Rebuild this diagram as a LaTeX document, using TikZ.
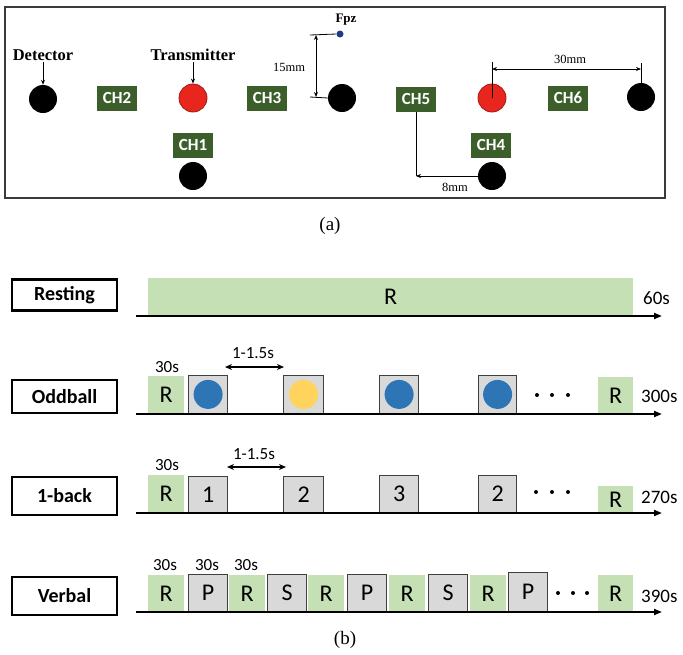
\documentclass[tikz,border=0pt]{standalone}
\usepackage{fontspec}
\setmainfont{Liberation Serif}
\newfontfamily\calfont{Carlito}
\usetikzlibrary{arrows.meta}
\definecolor{chgreen}{HTML}{3B5E2B}
\definecolor{txred}{HTML}{E8261E}
\definecolor{rgreen}{HTML}{C5E0B4}
\definecolor{gfill}{HTML}{D9D9D9}
\definecolor{gdraw}{HTML}{3F3F3F}
\definecolor{bblue}{HTML}{2E75B6}
\definecolor{byellow}{HTML}{FFD35C}
\definecolor{fpzblue}{HTML}{1F3C88}
\definecolor{framec}{HTML}{3A3A3A}
\begin{document}
\begin{tikzpicture}[x=1pt,y=-1pt,
  frame/.style={draw=framec,line width=2.6pt},
  lab/.style={font=\bfseries\fontsize{16.5}{18}\selectfont,inner sep=1pt},
  dimlab/.style={font=\fontsize{12.5}{14}\selectfont,inner sep=1pt},
  ch/.style={fill=chgreen,text=white,font=\calfont\bfseries\fontsize{17}{18}\selectfont,minimum width=40pt,minimum height=25pt,inner sep=0pt},
  det/.style={circle,fill=black,minimum size=28pt,inner sep=0pt},
  txc/.style={circle,fill=txred,draw=txred!70!black,line width=0.8pt,minimum size=28pt,inner sep=0pt},
  fpzdot/.style={circle,fill=fpzblue,minimum size=7pt,inner sep=0pt},
  sarr/.style={line width=0.8pt,-{Stealth[length=5pt,width=4pt]}},
  darr/.style={line width=0.8pt,{Stealth[length=5pt,width=4pt]}-{Stealth[length=5pt,width=4pt]}},
  thinln/.style={line width=0.8pt},
  tbox/.style={draw=black,line width=2.2pt,minimum width=105pt,font=\calfont\bfseries\fontsize{20}{22}\selectfont,inner sep=0pt},
  gr/.style={fill=rgreen,anchor=south west,inner sep=0pt,font=\calfont\fontsize{24}{26}\selectfont},
  gy/.style={fill=gfill,draw=gdraw,line width=1.2pt,anchor=south west,inner sep=0pt,font=\calfont\fontsize{24}{26}\selectfont},
  ball/.style={circle,minimum size=29pt,inner sep=0pt},
  sl/.style={font=\calfont\fontsize{19}{22}\selectfont,inner sep=0pt},
  ts/.style={font=\calfont\fontsize{17}{20}\selectfont,inner sep=0pt},
  tl/.style={line width=1.8pt,-{Triangle[length=8pt,width=6pt]}},
  iarr/.style={line width=1.4pt,{Stealth[length=7pt,width=6pt]}-{Stealth[length=7pt,width=6pt]}},
  dotc/.style={circle,fill=black,minimum size=4pt,inner sep=0pt},
  captext/.style={font=\fontsize{19}{22}\selectfont}
]
\useasboundingbox (0,0) rectangle (683,654);
% ---------------- panel (a)
\draw[frame] (5,7) rectangle (665,198);
\node[det] (d1) at (43,99) {};
\node[lab] (detl) at (43,55) {Detector};
\draw[sarr] (detl.south) -- (d1.north);
\node[ch] (ch2) at (117,98) {CH2};
\node[txc] (t1) at (193,98) {};
\node[lab] (txl) at (193,55) {Transmitter};
\draw[sarr] (txl.south) -- (t1.north);
\node[ch] (ch3) at (267,98) {CH3};
\node[ch] (ch1) at (193,145) {CH1};
\node[det] (d2) at (193,176) {};
\node[det] (d3) at (342,98) {};
\node[fpzdot] (fpz) at (340,34) {};
\node[lab,font=\bfseries\fontsize{13}{15}\selectfont] (fpzl) at (346,20) {Fpz};
\coordinate (m15t) at (310,35);
\coordinate (m15b) at (310,97);
\coordinate (m15a) at (316,35);
\coordinate (m15c) at (316,97);
\draw[thinln] (m15t) -- (fpz.west);
\draw[thinln] (m15b) -- (d3.west);
\draw[darr] (m15a) -- (m15c);
\node[dimlab] (l15) at (289,67) {15mm};
\node[ch] (ch5) at (416,99) {CH5};
\node[txc] (t2) at (492,98) {};
\node[ch] (ch6) at (568,98) {CH6};
\node[det] (d4) at (641,97) {};
\node[ch] (ch4) at (491,145) {CH4};
\node[det] (d5) at (492,176) {};
\coordinate (m30a) at (492,62);
\coordinate (m30b) at (641,63);
\coordinate (m30l) at (492,69);
\coordinate (m30r) at (641,69);
\draw[thinln] (t2.center) -- (m30a);
\draw[thinln] (m30b) -- (d4.north);
\draw[darr] (m30l) -- (m30r);
\node[dimlab] (l30) at (570,59) {30mm};
\coordinate (m8) at (ch5.south |- d5.center);
\draw[thinln] (ch5.south) -- (m8);
\draw[sarr] (d5.west) -- (m8);
\node[dimlab] (l8) at (455,187) {8mm};
\node[captext] (capa) at (330,226) {(a)};
% ---------------- panel (b): Resting
\node[tbox,minimum height=31pt] (lres) at (64.5,295) {Resting};
\node[gr,minimum width=485pt,minimum height=37pt] (rbar) at (148,315) {R};
\coordinate (r0s) at (136,316);
\coordinate (r0e) at (662,316);
\draw[tl] (r0s) -- (r0e);
\node[sl,anchor=west] (t60) at (643,298) {60s};
% Oddball
\node[tbox,minimum height=33pt] (lodd) at (64.5,396.5) {Oddball};
\node[gr,minimum width=36pt,minimum height=38pt] (o1) at (148,414) {R};
\node[gy,minimum width=39pt,minimum height=38pt] (o2) at (188,414) {};
\node[gy,minimum width=40pt,minimum height=38pt] (o3) at (283,414) {};
\node[gy,minimum width=39pt,minimum height=38pt] (o4) at (379,414) {};
\node[gy,minimum width=38pt,minimum height=38pt] (o5) at (478,414) {};
\node[ball,fill=bblue] (o2c) at (o2.center) {};
\node[ball,fill=byellow] (o3c) at (o3.center) {};
\node[ball,fill=bblue] (o4c) at (o4.center) {};
\node[ball,fill=bblue] (o5c) at (o5.center) {};
\node[dotc] (od1) at (537,395) {};
\node[dotc] (od2) at (552,395) {};
\node[dotc] (od3) at (568,395) {};
\node[gr,minimum width=35pt,minimum height=37pt] (o6) at (598,414) {R};
\coordinate (o0s) at (136,414);
\coordinate (o0e) at (662,414);
\draw[tl] (o0s) -- (o0e);
\node[sl,anchor=west] (t300) at (641,396) {300s};
\node[ts] (o30) at (167,367) {30s};
\coordinate (oa1) at (225,367);
\coordinate (oa2) at (284,367);
\draw[iarr] (oa1) -- (oa2);
\node[ts] (oal) at (253,353) {1-1.5s};
% 1-back
\node[tbox,minimum height=38pt] (lone) at (64.5,496) {1-back};
\node[gr,minimum width=36pt,minimum height=38pt] (b1) at (148,513) {R};
\node[gy,minimum width=39pt,minimum height=36pt] (b2) at (188,513) {1};
\node[gy,minimum width=40pt,minimum height=36pt] (b3) at (283,513) {2};
\node[gy,minimum width=39pt,minimum height=37pt] (b4) at (379,513) {3};
\node[gy,minimum width=38pt,minimum height=37pt] (b5) at (478,513) {2};
\node[dotc] (bd1) at (536,492) {};
\node[dotc] (bd2) at (552,492) {};
\node[dotc] (bd3) at (568,492) {};
\node[gr,minimum width=35pt,minimum height=27pt] (b6) at (598,513) {R};
\coordinate (b0s) at (136,513);
\coordinate (b0e) at (662,513);
\draw[tl] (b0s) -- (b0e);
\node[sl,anchor=west] (t270) at (641,497) {270s};
\node[ts] (b30) at (167,465) {30s};
\coordinate (ba1) at (227,467);
\coordinate (ba2) at (286,467);
\draw[iarr] (ba1) -- (ba2);
\node[ts] (bal) at (254,454) {1-1.5s};
% Verbal
\node[tbox,minimum height=38pt] (lver) at (64.5,596) {Verbal};
\node[gr,minimum width=36pt,minimum height=37pt] (v1) at (148,612) {R};
\node[gy,minimum width=39pt,minimum height=37pt] (v2) at (188,612) {P};
\node[gr,minimum width=36pt,minimum height=37pt] (v3) at (229,612) {R};
\node[gy,minimum width=39pt,minimum height=37pt] (v4) at (267,612) {S};
\node[gr,minimum width=36pt,minimum height=37pt] (v5) at (308,612) {R};
\node[gy,minimum width=39pt,minimum height=37pt] (v6) at (347,612) {P};
\node[gr,minimum width=36pt,minimum height=37pt] (v7) at (389,612) {R};
\node[gy,minimum width=39pt,minimum height=37pt] (v8) at (428,612) {S};
\node[gr,minimum width=36pt,minimum height=37pt] (v9) at (470,612) {R};
\node[gy,minimum width=39pt,minimum height=39pt] (v10) at (508,612) {P};
\node[dotc] (vd1) at (558,593) {};
\node[dotc] (vd2) at (573,593) {};
\node[dotc] (vd3) at (587,593) {};
\node[gr,minimum width=35pt,minimum height=37pt] (v11) at (598,612) {R};
\coordinate (v0s) at (136,612);
\coordinate (v0e) at (662,612);
\draw[tl] (v0s) -- (v0e);
\node[sl,anchor=west] (t390) at (641,596) {390s};
\node[ts] (v30a) at (165,565) {30s};
\node[ts] (v30b) at (207,565) {30s};
\node[ts] (v30c) at (246,565) {30s};
\node[captext] (capb) at (345,640) {(b)};
\end{tikzpicture}
\end{document}
